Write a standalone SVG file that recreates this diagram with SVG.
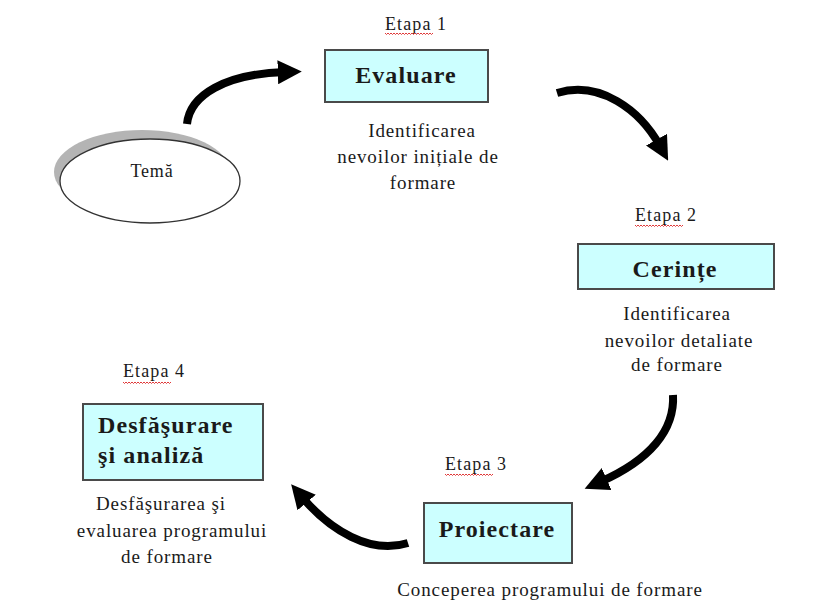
<svg xmlns="http://www.w3.org/2000/svg" width="836" height="601" viewBox="0 0 836 601">
<style>
  text { font-family: "Liberation Serif", "Times New Roman", serif; fill: #1a1a1a; }
  .etapa { font-size: 18px; letter-spacing: 1.1px; }
  .desc { font-size: 19px; letter-spacing: 0.9px; text-anchor: middle; }
  .title { font-size: 24px; font-weight: bold; letter-spacing: 1.1px; }
  .box { fill: #CCFFFF; stroke: #4a4a4a; stroke-width: 2; }
  .arrow { fill: none; stroke: #000; stroke-width: 8; marker-end: url(#head); }
  .squig { fill: none; stroke: #e03a3a; stroke-width: 1; }
</style>
<defs>
  <marker id="head" viewBox="0 0 10 10" refX="3" refY="5" markerWidth="3" markerHeight="3" orient="auto" markerUnits="strokeWidth">
    <path d="M0,0 L10,5 L0,10 z" fill="#000"/>
  </marker>
  <path id="sq" d="M0,0 l1.5,1.5 l1.5,-1.5 l1.5,1.5 l1.5,-1.5 l1.5,1.5 l1.5,-1.5 l1.5,1.5 l1.5,-1.5 l1.5,1.5 l1.5,-1.5 l1.5,1.5 l1.5,-1.5 l1.5,1.5 l1.5,-1.5 l1.5,1.5 l1.5,-1.5 l1.5,1.5 l1.5,-1.5 l1.5,1.5 l1.5,-1.5 l1.5,1.5 l1.5,-1.5 l1.5,1.5 l1.5,-1.5 l1.5,1.5 l1.5,-1.5 l1.5,1.5 l1.5,-1.5 l1.5,1.5 l1.5,-1.5 l1.5,1.5 l1.5,-1.5"/>
</defs>
<rect width="836" height="601" fill="#ffffff"/>

<g id="connectors">
  <path class="arrow" d="M187,124 C190,95 225,74 285,72"/>
  <path class="arrow" d="M557,93 C600,80 640,110 660,146"/>
  <path class="arrow" d="M673,395 C675,430 650,460 600,482"/>
  <path class="arrow" d="M408,543 C370,555 330,530 302,497"/>
</g>

<g id="tema">
  <ellipse cx="142" cy="172" rx="88" ry="42" fill="#b4b4b4"/>
  <ellipse cx="150" cy="181" rx="90" ry="42" fill="#ffffff" stroke="#333" stroke-width="1.3"/>
  <text x="152" y="177" font-size="18" text-anchor="middle" letter-spacing="0.8">Temă</text>
</g>

<g id="evaluare">
  <text class="etapa" x="385" y="30">Etapa 1</text>
  <use href="#sq" class="squig" x="385" y="33"/>
  <rect class="box" x="325" y="50" width="163" height="52"/>
  <text class="title" x="406" y="83" text-anchor="middle">Evaluare</text>
  <text class="desc" x="422" y="137">Identificarea</text>
  <text class="desc" x="418" y="163">nevoilor inițiale de</text>
  <text class="desc" x="423" y="189">formare</text>
</g>

<g id="cerinte">
  <text class="etapa" x="635" y="221">Etapa 2</text>
  <use href="#sq" class="squig" x="635" y="225"/>
  <rect class="box" x="578" y="244" width="196" height="45"/>
  <text class="title" x="675" y="277" text-anchor="middle">Cerințe</text>
  <text class="desc" x="677" y="320">Identificarea</text>
  <text class="desc" x="679" y="347">nevoilor detaliate</text>
  <text class="desc" x="677" y="371">de formare</text>
</g>

<g id="proiectare">
  <text class="etapa" x="445" y="470">Etapa 3</text>
  <use href="#sq" class="squig" x="445" y="474"/>
  <rect class="box" x="424" y="503" width="148" height="60"/>
  <text class="title" x="497" y="537" text-anchor="middle">Proiectare</text>
  <text class="desc" x="550" y="596">Conceperea programului de formare</text>
</g>

<g id="desfasurare">
  <text class="etapa" x="123" y="377">Etapa 4</text>
  <use href="#sq" class="squig" x="123" y="382"/>
  <rect class="box" x="83" y="404" width="180" height="76"/>
  <text class="title" x="98" y="433">Desfăşurare</text>
  <text class="title" x="98" y="463">şi analiză</text>
  <text class="desc" x="161" y="510">Desfăşurarea şi</text>
  <text class="desc" x="172" y="537">evaluarea programului</text>
  <text class="desc" x="167" y="563">de formare</text>
</g>
</svg>
